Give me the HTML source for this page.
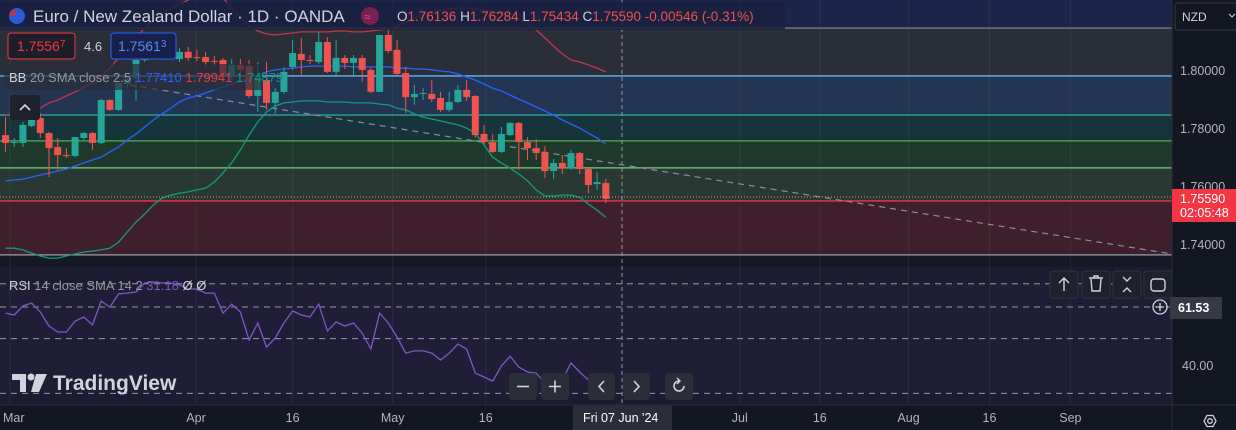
<!DOCTYPE html>
<html><head><meta charset="utf-8">
<style>
html,body{margin:0;padding:0;background:#131722;width:1236px;height:430px;overflow:hidden;font-family:"Liberation Sans",sans-serif;}
svg{display:block}
text{font-family:"Liberation Sans",sans-serif}
</style></head>
<body>
<svg id="chart" width="1236" height="430" viewBox="0 0 1236 430" xmlns="http://www.w3.org/2000/svg">
  <rect x="0" y="0" width="1172" height="256" fill="#1c2548"/>
  <rect x="0" y="28" width="1172" height="48" fill="#2a2e39"/>
  <rect x="0" y="76" width="1172" height="39" fill="#233550"/>
  <rect x="0" y="115" width="1172" height="26" fill="#17343a"/>
  <rect x="0" y="141" width="1172" height="27" fill="#1f3a2d"/>
  <rect x="0" y="168" width="1172" height="33" fill="#273932"/>
  <rect x="0" y="201" width="1172" height="54" fill="#3e1f2b"/>
  <rect x="0" y="256" width="1172" height="11" fill="#151925"/>
  <rect x="0" y="267" width="1172" height="138" fill="#1d1b31"/>
  <rect x="0" y="284" width="1172" height="109" fill="#201e36"/>
  <g id="grid"></g>
  <g id="fib"></g>
  <line x1="130" y1="85" x2="1172" y2="254" stroke="#8a8e99" stroke-width="1.2" stroke-dasharray="6,5"/>
  <g id="bands"></g>
  <g id="candles"></g>
  <g id="rsi"></g>
  <line x1="622" y1="0" x2="622" y2="405" stroke="#9598a1" stroke-width="1" stroke-dasharray="4,3"/>
  <line x1="0" y1="197" x2="1172" y2="197" stroke="#c99" stroke-width="1" stroke-dasharray="1,2"/>

  <rect x="0" y="2" width="785" height="28" fill="#1a2040" opacity="0.85"/>
  <circle cx="17" cy="16" r="8" fill="#2a5bd7"/>
  <circle cx="13" cy="13" r="3" fill="#c33"/>
  <text x="33" y="22" font-size="17" fill="#d1d4dc">Euro / New Zealand Dollar · 1D · OANDA</text>
  <circle cx="370" cy="16" r="9" fill="#7a2050"/>
  <text x="364" y="21" font-size="12" fill="#e05090">≈</text>
  <text x="397" y="21" font-size="13.5" fill="#ef5350"><tspan fill="#d1d4dc">O</tspan>1.76136 <tspan fill="#d1d4dc">H</tspan>1.76284 <tspan fill="#d1d4dc">L</tspan>1.75434 <tspan fill="#d1d4dc">C</tspan>1.75590 -0.00546 (-0.31%)</text>

  <rect x="8" y="33" width="67" height="26" rx="3" fill="#1e1e2a" stroke="#f23645"/>
  <text x="17" y="51" font-size="14" fill="#f23645">1.7556<tspan font-size="10" dy="-4">7</tspan></text>
  <text x="84" y="51" font-size="13" fill="#d1d4dc">4.6</text>
  <rect x="111" y="33" width="65" height="26" rx="3" fill="#16204a" stroke="#2962ff"/>
  <text x="118" y="51" font-size="14" fill="#5b8def">1.7561<tspan font-size="10" dy="-4">3</tspan></text>

  <rect x="4" y="64" width="258" height="26" fill="#2a2e39" opacity="0.7"/>
  <text x="9" y="82" font-size="13" fill="#9598a1"><tspan fill="#d1d4dc">BB</tspan> 20 SMA close 2.5 <tspan fill="#2962ff">1.77410</tspan> <tspan fill="#f23645">1.79941</tspan> <tspan fill="#089981">1.74879</tspan></text>
  <rect x="10" y="95" width="30" height="25" rx="3" fill="#1e222d"/>
  <path d="M20 110 L25 105 L30 110" stroke="#d1d4dc" stroke-width="1.6" fill="none"/>

  <text x="9" y="290" font-size="13" fill="#9598a1"><tspan fill="#d1d4dc">RSI</tspan> 14 close SMA 14 2 <tspan fill="#7e57c2">31.18</tspan> <tspan fill="#d1d4dc">Ø Ø</tspan></text>

  <g><rect x="1050" y="271" width="28" height="27" rx="3" fill="#1e222d" stroke="#2f3340"/><path d="M1064 291 V278 M1059 283 L1064 278 L1069 283" stroke="#d1d4dc" stroke-width="1.4" fill="none"/></g>
  <g><rect x="1082" y="271" width="28" height="27" rx="3" fill="#1e222d" stroke="#2f3340"/><path d="M1089 278 H1103 M1091 279 L1092 291 H1100 L1101 279 M1094 278 V276 H1098 V278" stroke="#d1d4dc" stroke-width="1.4" fill="none"/></g>
  <g><rect x="1113" y="271" width="28" height="27" rx="3" fill="#1e222d" stroke="#2f3340"/><path d="M1123 277 L1127 281 L1131 277 M1123 292 L1127 288 L1131 292" stroke="#d1d4dc" stroke-width="1.4" fill="none"/></g>
  <g><rect x="1144" y="271" width="28" height="27" rx="3" fill="#1e222d" stroke="#2f3340"/><rect x="1151" y="279" width="14" height="12" rx="3" stroke="#d1d4dc" stroke-width="1.4" fill="none"/></g>
  <g><circle cx="1160" cy="307" r="7" fill="none" stroke="#d1d4dc" stroke-width="1.3"/><path d="M1156 307 H1164 M1160 303 V311" stroke="#d1d4dc" stroke-width="1.3"/></g>

  <g>
    <path d="M12 374 H26 V392 H20 V380 H12 Z" fill="#d1d4dc"/>
    <circle cx="31" cy="377" r="3.5" fill="#d1d4dc"/>
    <path d="M36 374 H47 L39 392 H31 Z" fill="#d1d4dc"/>
    <text x="53" y="390" font-size="21" font-weight="bold" fill="#d1d4dc">TradingView</text>
  </g>

  <g><rect x="509" y="373" width="28" height="27" rx="4" fill="#2a2e39"/><path d="M517 386.5 H529" stroke="#d1d4dc" stroke-width="1.6"/></g>
  <g><rect x="541" y="373" width="28" height="27" rx="4" fill="#2a2e39"/><path d="M549 386.5 H561 M555 380.5 V392.5" stroke="#d1d4dc" stroke-width="1.6"/></g>
  <g><rect x="588" y="373" width="27" height="27" rx="4" fill="#2a2e39"/><path d="M604 381 L599 386.5 L604 392" stroke="#d1d4dc" stroke-width="1.6" fill="none"/></g>
  <g><rect x="623" y="373" width="27" height="27" rx="4" fill="#2a2e39"/><path d="M634 381 L639 386.5 L634 392" stroke="#d1d4dc" stroke-width="1.6" fill="none"/></g>
  <g><rect x="665" y="373" width="28" height="27" rx="4" fill="#2a2e39"/><path d="M684 386 A5 5 0 1 1 679 381" stroke="#d1d4dc" stroke-width="1.6" fill="none"/><path d="M677 378 L680 381 L677 384" stroke="#d1d4dc" stroke-width="1.4" fill="none"/></g>

  <rect x="1172" y="0" width="64" height="430" fill="#131722"/>
  <line x1="1172" y1="0" x2="1172" y2="430" stroke="#2a2e39"/>
  <line x1="0" y1="405" x2="1236" y2="405" stroke="#2a2e39"/>
  <g><rect x="1175" y="3" width="62" height="27" rx="3" fill="none" stroke="#363a45"/><text x="1182" y="21" font-size="12" fill="#d1d4dc">NZD</text><path d="M1229 14 L1232 17 L1235 14" stroke="#d1d4dc" fill="none"/></g>
  <g id="yaxis"></g>
  <g><rect x="1172" y="189" width="64" height="33" fill="#f23645"/><text x="1180" y="203" font-size="12.5" fill="#fff">1.75590</text><text x="1180" y="217" font-size="12.5" fill="#fff">02:05:48</text></g>
  <g><rect x="1170" y="297" width="52" height="22" fill="#363a45"/><text x="1178" y="312" font-size="12.5" font-weight="bold" fill="#fff">61.53</text></g>
  <text x="1182" y="370" font-size="12.5" fill="#b2b5be">40.00</text>
  <g id="xaxis"></g>
  <g><rect x="573" y="405" width="99" height="25" fill="#2a2e39"/><text x="583" y="422" font-size="12.5" fill="#fff">Fri 07 Jun '24</text></g>
  <g><path d="M1204 421 L1207 415.5 H1213 L1216 421 L1213 426.5 H1207 Z" fill="none" stroke="#d1d4dc" stroke-width="1.3"/><circle cx="1210" cy="421" r="2.3" fill="none" stroke="#d1d4dc" stroke-width="1.3"/></g>
</svg>
<script>
const opens  = [1.7779,1.7752,1.7752,1.7810,1.7838,1.7786,1.7738,1.7710,1.7707,1.7769,1.7786,1.7752,1.7900,1.7866,1.7955,1.7976,1.8038,1.8066,1.8073,1.8062,1.8041,1.8066,1.8048,1.8048,1.8035,1.8038,1.7986,1.8021,1.8017,1.7914,1.7969,1.7890,1.7928,1.8014,1.8059,1.8038,1.8031,1.8100,1.7997,1.8045,1.8028,1.8045,1.8004,1.7928,1.8124,1.8073,1.7993,1.7910,1.7921,1.7921,1.7907,1.7866,1.7893,1.7935,1.7914,1.7783,1.7755,1.7721,1.7779,1.7821,1.7755,1.7734,1.7721,1.7655,1.7683,1.7665,1.7717,1.7662,1.7610,1.76136];
const highs  = [1.7841,1.7769,1.7824,1.7855,1.7855,1.7790,1.7769,1.7734,1.7772,1.7790,1.7790,1.7903,1.7903,1.7962,1.7983,1.8066,1.8083,1.8090,1.8093,1.8079,1.8079,1.8083,1.8073,1.8066,1.8052,1.8045,1.8041,1.8041,1.8038,1.8031,1.8031,1.7941,1.8014,1.8107,1.8114,1.8055,1.8135,1.8117,1.8107,1.8055,1.8055,1.8055,1.8010,1.8124,1.8148,1.8107,1.8014,1.7952,1.7941,1.7969,1.7928,1.7928,1.7952,1.7969,1.7917,1.7814,1.7783,1.7807,1.7824,1.7824,1.7772,1.7765,1.7741,1.7697,1.7710,1.7728,1.7721,1.7665,1.7652,1.76284];
const lows   = [1.7721,1.7738,1.7738,1.7807,1.7769,1.7634,1.7659,1.7700,1.7703,1.7762,1.7728,1.7748,1.7862,1.7862,1.7941,1.7897,1.8031,1.8052,1.8038,1.8048,1.8031,1.8035,1.8035,1.8017,1.8017,1.7976,1.7969,1.7979,1.7907,1.7859,1.7866,1.7852,1.7921,1.8004,1.7986,1.8024,1.8024,1.7993,1.7986,1.8007,1.7986,1.7962,1.7924,1.7928,1.8062,1.7983,1.7855,1.7883,1.7900,1.7893,1.7859,1.7859,1.7890,1.7897,1.7769,1.7748,1.7717,1.7717,1.7776,1.7659,1.7693,1.7693,1.7631,1.7627,1.7645,1.7659,1.7645,1.7579,1.7590,1.75434];
const closes = [1.7752,1.7755,1.7814,1.7838,1.7786,1.7734,1.7710,1.7707,1.7772,1.7786,1.7752,1.7900,1.7866,1.7959,1.7972,1.8038,1.8066,1.8073,1.8059,1.8061,1.8066,1.8045,1.8047,1.8031,1.8034,1.7986,1.8021,1.8004,1.7914,1.7976,1.7890,1.7928,1.7997,1.8062,1.8038,1.8037,1.8100,1.7997,1.8045,1.8028,1.8045,1.8004,1.7928,1.8124,1.8069,1.7990,1.7910,1.7921,1.7924,1.7903,1.7866,1.7893,1.7935,1.7910,1.7779,1.7755,1.7721,1.7783,1.7821,1.7755,1.7734,1.7717,1.7655,1.7683,1.7665,1.7717,1.7662,1.7607,1.7617,1.75590];
const bbUpper = [1.7848,1.7855,1.7859,1.7866,1.7872,1.7890,1.7900,1.7914,1.7928,1.7945,1.7962,1.7983,1.8010,1.8045,1.8079,1.8114,1.8148,1.8176,1.8197,1.8217,1.8231,1.8245,1.8255,1.8262,1.8262,1.8252,1.8217,1.8183,1.8155,1.8138,1.8128,1.8124,1.8128,1.8131,1.8135,1.8135,1.8135,1.8135,1.8138,1.8138,1.8135,1.8135,1.8138,1.8142,1.8145,1.8155,1.8169,1.8183,1.8193,1.8204,1.8210,1.8214,1.8217,1.8217,1.8214,1.8210,1.8204,1.8197,1.8186,1.8176,1.8162,1.8142,1.8114,1.8086,1.8059,1.8038,1.8031,1.8021,1.8010,1.7997];
const bbMiddle = [1.7621,1.7624,1.7627,1.7634,1.7641,1.7648,1.7655,1.7662,1.7672,1.7683,1.7693,1.7703,1.7721,1.7738,1.7762,1.7783,1.7807,1.7831,1.7852,1.7872,1.7893,1.7907,1.7914,1.7924,1.7935,1.7945,1.7955,1.7966,1.7976,1.7986,1.7997,1.8004,1.8007,1.8010,1.8014,1.8017,1.8017,1.8017,1.8017,1.8017,1.8014,1.8014,1.8014,1.8014,1.8014,1.8010,1.8010,1.8007,1.8007,1.8004,1.8000,1.7997,1.7990,1.7979,1.7969,1.7955,1.7941,1.7931,1.7917,1.7903,1.7890,1.7876,1.7862,1.7848,1.7831,1.7817,1.7803,1.7786,1.7769,1.7748];
const bbLower = [1.7389,1.7389,1.7383,1.7372,1.7362,1.7355,1.7355,1.7362,1.7369,1.7376,1.7379,1.7383,1.7389,1.7410,1.7445,1.7479,1.7507,1.7538,1.7562,1.7572,1.7579,1.7583,1.7590,1.7596,1.7617,1.7648,1.7683,1.7728,1.7779,1.7824,1.7859,1.7879,1.7890,1.7893,1.7897,1.7897,1.7897,1.7893,1.7893,1.7893,1.7890,1.7890,1.7890,1.7886,1.7883,1.7872,1.7866,1.7852,1.7841,1.7834,1.7828,1.7821,1.7814,1.7803,1.7786,1.7745,1.7703,1.7683,1.7665,1.7645,1.7621,1.7590,1.7569,1.7569,1.7572,1.7572,1.7565,1.7541,1.7520,1.7496];
const rsiValues = [59.3,58.6,61.9,63.0,59.7,54.6,52.4,52.4,56.4,57.9,55.0,63.7,61.5,66.3,66.6,67.0,70.3,70.7,70.3,70.3,69.6,68.1,68.1,66.6,66.6,59.3,62.6,59.7,49.5,55.7,46.9,50.2,55.7,60.1,58.6,57.9,62.6,52.8,56.1,54.6,55.7,52.0,46.2,59.3,55.7,50.6,44.7,45.5,45.5,44.7,42.2,44.7,48.0,46.2,37.4,36.0,34.5,40.0,43.6,39.6,37.8,37.4,33.8,36.7,34.9,41.1,37.8,34.9,33.1,31.18];
const fibLevels = [1.8148,1.7983,1.7848,1.7759,1.7666,1.7552,1.7366];
const fibColors = ["#787b86","#64b5f6","#26a69a","#4caf50","#81c784","#f23645","#9598a1"];
const priceTicks = [1.80,1.78,1.76,1.74];
const priceTickLabels = ["1.80000","1.78000","1.76000","1.74000"];
const rsiGuides = [70,61.53,50,30];
const dateLabels = ["Mar","Apr","16","May","16","Jul","16","Aug","16","Sep"];
const dateBarIndex = [0.5,21.9,33.0,44.5,55.2,84.4,93.6,103.8,113.1,122.4];

const NS="http://www.w3.org/2000/svg";
function yP(p){return 71+(1.8-p)*2900;}
function xI(i){return 5.5+i*8.7;}
function yR(v){return 366-(v-40)*2.74;}
function mk(tag,attrs,parent){const e=document.createElementNS(NS,tag);for(const k in attrs)e.setAttribute(k,attrs[k]);parent.appendChild(e);return e;}

const grid=document.getElementById('grid');
dateBarIndex.forEach((d)=>{
  const l=mk('line',{x1:xI(d),x2:xI(d),y1:0,y2:405,stroke:'#ffffff',"stroke-opacity":0.06},grid);
  
  
});

const fib=document.getElementById('fib');
fibLevels.forEach((p,i)=>{
  const l=mk('line',{x1:0,x2:1172,y1:yP(p),y2:yP(p),stroke:fibColors[i],"stroke-width":1.3},fib);
  
  
});

const bands=document.getElementById('bands');
function poly(arr,color,name){
  const pts=arr.map((v,i)=>xI(i).toFixed(1)+','+yP(v).toFixed(1)).join(' ');
  const e=mk('polyline',{points:pts,fill:'none',stroke:color,"stroke-width":1.3},bands);
  
  
}
poly(bbUpper,'#c2374a','bb-upper-band');
poly(bbMiddle,'#2962ff','bb-basis-line');
poly(bbLower,'#139a80','bb-lower-band');

const cg=document.getElementById('candles');
opens.forEach((o,i)=>{
  const c=closes[i],up=c>=o,col=up?'#26a69a':'#ef5350',x=xI(i);
  const g=mk('g',{},cg);
  
  
  mk('line',{x1:x,x2:x,y1:yP(highs[i]),y2:yP(lows[i]),stroke:col,"stroke-width":1},g);
  const top=Math.min(yP(o),yP(c)),h=Math.max(1,Math.abs(yP(o)-yP(c)));
  mk('rect',{x:x-3.5,y:top,width:7,height:h,fill:col},g);
});

const rg=document.getElementById('rsi');
rsiGuides.forEach(v=>{
  const l=mk('line',{x1:0,x2:1172,y1:yR(v),y2:yR(v),stroke:'#9598a1',"stroke-width":1,"stroke-dasharray":"6,5"},rg);
  
  
});
const rl=mk('polyline',{points:rsiValues.map((v,i)=>xI(i).toFixed(1)+','+yR(v).toFixed(1)).join(' '),fill:'none',stroke:'#7e57c2',"stroke-width":1.3},rg);



const ya=document.getElementById('yaxis');
priceTicks.forEach((p,i)=>{
  const t=mk('text',{x:1180,y:yP(p)+4,"font-size":12.5,fill:'#b2b5be'},ya);
  t.textContent=priceTickLabels[i];
  
  
});

const xa=document.getElementById('xaxis');
dateLabels.forEach((s,i)=>{
  const t=mk('text',{x:i===0?3:xI(dateBarIndex[i]),y:422,"font-size":12.5,fill:'#b2b5be',"text-anchor":i===0?'start':'middle'},xa);
  t.textContent=s;
  
  
});
</script>
</body></html>
